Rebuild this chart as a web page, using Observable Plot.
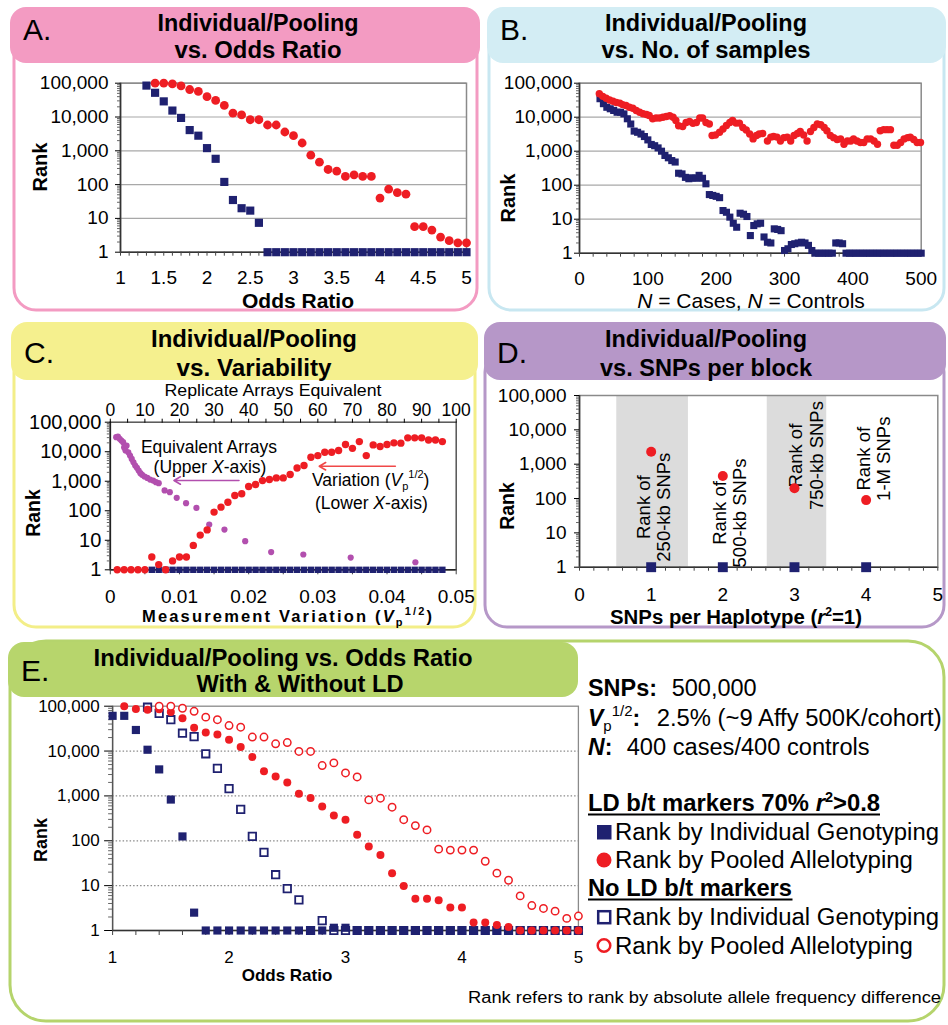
<!DOCTYPE html>
<html><head><meta charset="utf-8">
<script src="https://cdn.jsdelivr.net/npm/d3@7"></script>
<script src="https://cdn.jsdelivr.net/npm/@observablehq/plot@0.6"></script>
<style>
body{margin:0;background:#fff;}
#wrap{position:relative;width:948px;height:1025px;overflow:hidden;background:#fff;font-family:"Liberation Sans",Arial,Helvetica,sans-serif;}
</style></head><body><div id="wrap"></div>
<script>
// ================= DATA =================
const yTicks = [1, 10, 100, 1000, 10000, 100000];

// Panel A: rank vs odds ratio
const orA_ind = [1.3,1.4,1.5,1.6,1.7,1.8,1.9,2.0,2.1,2.2,2.3,2.4,2.5,2.6,2.7,2.8,2.9,3.0,3.1,3.2,3.3,3.4,3.5,3.6,3.7,3.8,3.9,4.0,4.1,4.2,4.3,4.4,4.5,4.6,4.7,4.8,4.9,5.0];
const rankA_ind = [85000,52000,29000,15500,9400,4100,2800,1200,580,120,35,20,17,7.4,1,1,1,1,1,1,1,1,1,1,1,1,1,1,1,1,1,1,1,1,1,1,1,1];
const orA_pool = [1.4,1.5,1.6,1.7,1.8,1.9,2.0,2.1,2.2,2.3,2.4,2.5,2.6,2.7,2.8,2.9,3.0,3.1,3.2,3.3,3.4,3.5,3.6,3.7,3.8,3.9,4.0,4.1,4.2,4.3,4.4,4.5,4.6,4.7,4.8,4.9,5.0];
const rankA_pool = [100000,100000,95000,83000,65000,57000,40000,31000,22000,13000,11500,8300,8300,5800,5800,3600,2800,1700,740,460,280,250,175,195,175,175,40,73,58,52,5.7,5.7,4.5,2.8,2.2,1.9,1.9];

// Panel B: rank vs number of samples
const nB_ind = [30,35,40,45,50,55,60,65,70,75,80,85,90,95,100,105,110,115,120,125,130,135,140,145,150,155,160,165,170,175,180,185,190,195,200,205,210,215,220,225,230,235,240,245,250,255,260,265,270,275,280,285,290,295,300,305,310,315,320,325,330,335,340,345,350,355,360,365,370,375,380,385,390,395,400,405,410,415,420,425,430,435,440,445,450,455,460,465,470,475,480,485,490,495,500];
const rankB_ind = [35000,25000,19600,17700,15800,14000,14000,12500,9000,6300,3900,3600,3200,2700,2150,1580,1450,1250,1000,750,640,530,480,225,215,170,155,165,160,195,160,110,53,50,47,43,18,16,11.5,7.6,5.8,15,14,12,3.3,6.5,7.3,7.6,3.0,2.1,2.0,5.2,5.0,4.6,1.2,1.35,1.8,1.9,2.0,2.1,2.0,1.7,1.2,1,1,1,1,1,1,2,2,1.9,1,1,1,1,1,1,1,1,1,1,1,1,1,1,1,1,1,1,1,1,1,1,1];
const nB_pool = [29,34,39,44,49,54,59,63,68,73,78,83,88,93,98,102,107,112,117,122,127,132,137,141,145,151,156,161,166,171,176,180,185,190,194,199,205,210,215,220,224,229,234,239,244,249,254,259,263,268,275,280,284,289,294,299,304,309,314,319,323,328,333,338,343,348,353,358,362,367,372,377,382,387,392,397,401,406,411,416,421,426,431,436,440,445,450,455,460,465,470,475,480,484,489,494,499];
const rankB_pool = [49000,41000,36000,32000,29500,27000,26000,23500,22000,19600,18300,15700,14000,12600,12000,11200,9000,9500,9500,10000,10500,11000,10000,8000,5600,5300,7000,7500,6600,7000,9500,9500,7000,6300,2900,3000,3600,4500,5700,7000,8000,6700,6700,5000,4200,3200,2300,2900,3200,3300,2000,2600,2700,2600,2000,2500,2600,2000,2900,3300,3800,3000,2000,3800,5000,6300,6000,5000,4000,2900,2500,2200,2300,1600,2000,2000,2300,2000,1800,1800,2300,2300,2000,1600,4000,4300,4300,4300,1500,1500,1800,2300,2500,2600,2200,1800,1800];

// Panel C: rank vs variability
const vpC_ind = [0.006,0.007,0.008,0.009,0.010,0.011,0.012,0.013,0.014,0.015,0.016,0.017,0.018,0.019,0.020,0.021,0.022,0.023,0.024,0.025,0.026,0.027,0.028,0.029,0.030,0.031,0.032,0.033,0.034,0.035,0.036,0.037,0.038,0.039,0.040,0.041,0.042,0.043,0.044,0.045,0.046,0.047,0.048];
const rankC_ind = [1,1,1,1,1,1,1,1,1,1,1,1,1,1,1,1,1,1,1,1,1,1,1,1,1,1,1,1,1,1,1,1,1,1,1,1,1,1,1,1,1,1,1];
const vpC_pool = [0.001,0.002,0.003,0.004,0.005,0.006,0.007,0.008,0.009,0.010,0.011,0.012,0.013,0.014,0.015,0.016,0.017,0.018,0.019,0.020,0.021,0.022,0.023,0.024,0.025,0.026,0.027,0.028,0.029,0.030,0.031,0.032,0.033,0.034,0.035,0.036,0.037,0.038,0.039,0.040,0.041,0.042,0.043,0.044,0.045,0.046,0.047,0.048];
const rankC_pool = [1,1,1,1,1,2.7,1.5,1,2,2.7,2.7,6.7,15,22.5,90,133,195,330,375,660,780,1050,1140,1300,1300,1700,2800,3400,6500,7400,9600,9600,11000,17500,13000,22000,7400,17000,15000,17500,20000,19500,29500,29500,29500,25000,25000,22000];
const arraysC = [1.7,2.2,2.7,3.2,3.7,4.0,4.4,4.7,5.2,5.7,6.2,6.7,7.2,7.7,8.2,8.7,9.2,9.9,10.7,11.5,12.4,13.2,14.0,15.7,17.2,19.2,21.9,24.9,28.6,33,39,46.5,55.8,69.5,88.2];
const rankC_arrays = [31000,32500,27500,24000,21000,14000,11000,16000,9600,7400,5700,4400,3400,2850,2300,1870,1650,1450,1300,1140,1050,930,860,490,425,275,180,125,34,23,9.3,4,3.3,2.6,1.8];

// Panel D: rank vs SNPs per block
const snpsD = [1, 2, 3, 4];
const rankD_ind = [1, 1, 1, 1];
const rankD_pool = [2300, 450, 200, 90];
const labelsD = ["Rank of\n250-kb SNPs", "Rank of\n500-kb SNPs", "Rank of\n750-kb SNPs", "Rank of\n1-M SNPs"];

// Panel E: rank vs odds ratio, with and without LD
const orE_ldInd = [1.0,1.1,1.2,1.3,1.4,1.5,1.6,1.7,1.8,1.9,2.0,2.1,2.2,2.3,2.4,2.5,2.6,2.7,2.8,2.9,3.0,3.1,3.2,3.3,3.4,3.5,3.6,3.7,3.8,3.9,4.0,4.1,4.2,4.3,4.4,4.5,4.6,4.7,4.8,4.9,5.0];
const rankE_ldInd = [61000,61000,29500,10700,3900,830,125,2.5,1,1,1,1,1,1,1,1,1,1,1,1.15,1.15,1,1,1,1,1,1,1,1,1,1,1,1,1,1,1,1,1,1,1,1];
const orE_noInd = [1.3,1.4,1.5,1.6,1.7,1.8,1.9,2.0,2.1,2.2,2.3,2.4,2.5,2.6,2.7,2.8,2.9,3.0,3.1,3.2,3.3,3.4,3.5,3.6,3.7,3.8,3.9,4.0,4.1,4.2,4.3,4.4,4.5,4.6,4.7,4.8,4.9,5.0];
const rankE_noInd = [95000,69000,50000,25000,21000,8700,4100,1450,500,125,55,17.5,8.6,4.8,1,1.66,1,1,1,1,1,1,1,1,1,1,1,1,1,1,1,1,1,1,1,1,1,1];
const orE_ldPool = [1.1,1.2,1.3,1.4,1.5,1.6,1.7,1.8,1.9,2.0,2.1,2.2,2.3,2.4,2.5,2.6,2.7,2.8,2.9,3.0,3.1,3.2,3.3,3.4,3.5,3.6,3.7,3.8,3.9,4.0,4.1,4.2,4.3,4.4,4.5,4.6,4.7,4.8,4.9,5.0];
const rankE_ldPool = [100000,87000,83000,85000,74000,54000,33000,26000,23500,17800,12300,7400,3550,2700,2000,1120,900,580,365,295,136,75,48,19,9.8,5.1,5.1,4.7,3.25,3.25,1.5,1.5,1.33,1.2,1,1,1,1,1,1];
const orE_noPool = [1.4,1.5,1.6,1.7,1.8,1.9,2.0,2.1,2.2,2.3,2.4,2.5,2.6,2.7,2.8,2.9,3.0,3.1,3.2,3.3,3.4,3.5,3.6,3.7,3.8,3.9,4.0,4.1,4.2,4.3,4.4,4.5,4.6,4.7,4.8,4.9,5.0];
const rankE_noPool = [100000,100000,90000,77000,57000,50000,37000,34000,20500,20500,14500,15500,9800,9800,4750,5450,3250,2650,815,890,560,295,218,175,65,62,62,62,35,19,13.2,5.9,3.6,3.1,2.7,1.86,2.1];

// ================= STYLE =================
const FONT = "'Liberation Sans', Arial, Helvetica, sans-serif";
const NAVY = "#1f2170";
const RED = "#ee1d23";
const PURPLE = "#b24fae";
const fmt = d3.format(",");
const minorY = [];
for (let k = 0; k < 5; k++) for (let m = 2; m < 10; m++) minorY.push(m * 10 ** k);
const blank = () => "";

const wrap = document.getElementById("wrap");
function place(el, left, top) {
  el.style.position = "absolute";
  el.style.left = left + "px";
  el.style.top = top + "px";
  wrap.appendChild(el);
}
function baseStyle() {
  return {fontFamily: FONT, background: "transparent", overflow: "visible", color: "#000"};
}

// ================= OVERLAY (frames, titles, labels) =================
const ov = d3.create("svg").attr("width", 948).attr("height", 1025)
  .style("position", "absolute").style("left", "0px").style("top", "0px")
  .style("font-family", FONT);

function addText(parent, x, y, parts, attrs) {
  const t = parent.append("text").attr("x", x).attr("y", y);
  for (const [k, v] of Object.entries(attrs || {})) t.attr(k, v);
  for (const p of parts) {
    if (typeof p === "string") { t.append("tspan").text(p); continue; }
    const s = t.append("tspan").text(p.t);
    if (p.dy !== undefined) s.attr("dy", p.dy);
    if (p.size) s.attr("font-size", p.size);
    if (p.italic) s.attr("font-style", "italic");
    if (p.weight) s.attr("font-weight", p.weight);
  }
  return t;
}

const panels = [
  {bx: 14, by: 30, bw: 463, bh: 280, tx: 10, ty: 7, tw: 470, th: 56, col: "#f39bc2", fill: "#f39bc2",
   letter: "A.", lb: 40, cx: 258, l1: "Individual/Pooling", l2: "vs. Odds Ratio", b1: 31, b2: 58, w1: 201, w2: 167},
  {bx: 489, by: 30, bw: 455, bh: 280, tx: 487, ty: 7, tw: 459, th: 56, col: "#c8e7f1", fill: "#d3edf4",
   letter: "B.", lb: 40, cx: 706, l1: "Individual/Pooling", l2: "vs. No. of samples", b1: 31, b2: 58, w1: 202, w2: 209},
  {bx: 14, by: 350, bw: 461, bh: 277, tx: 11, ty: 322, tw: 467, th: 58, col: "#f3ee88", fill: "#f5f08e",
   letter: "C.", lb: 363, cx: 254, l1: "Individual/Pooling", l2: "vs. Variability", b1: 346.5, b2: 376, w1: 206, w2: 155},
  {bx: 485, by: 350, bw: 459, bh: 277, tx: 484, ty: 322, tw: 462, th: 58, col: "#b698c8", fill: "#b697c8",
   letter: "D.", lb: 363, cx: 706, l1: "Individual/Pooling", l2: "vs. SNPs per block", b1: 346.5, b2: 376, w1: 202, w2: 212}
];
for (const p of panels) {
  ov.append("rect").attr("x", p.bx).attr("y", p.by).attr("width", p.bw).attr("height", p.bh)
    .attr("rx", 22).attr("fill", "none").attr("stroke", p.col).attr("stroke-width", 3);
  ov.append("rect").attr("x", p.tx).attr("y", p.ty).attr("width", p.tw).attr("height", p.th)
    .attr("rx", 16).attr("fill", p.fill);
  addText(ov, p.tx + 13, p.lb, [p.letter], {"font-size": 30});
  addText(ov, p.cx, p.b1, [p.l1], {"font-size": 23, "font-weight": "bold", "text-anchor": "middle", textLength: p.w1, lengthAdjust: "spacingAndGlyphs"});
  addText(ov, p.cx, p.b2, [p.l2], {"font-size": 23, "font-weight": "bold", "text-anchor": "middle", textLength: p.w2, lengthAdjust: "spacingAndGlyphs"});
}
// Panel E frame and title
ov.append("rect").attr("x", 10).attr("y", 641).attr("width", 934).attr("height", 380)
  .attr("rx", 36).attr("fill", "none").attr("stroke", "#b5d46c").attr("stroke-width", 3);
ov.append("rect").attr("x", 8).attr("y", 642).attr("width", 570).attr("height", 55)
  .attr("rx", 16).attr("fill", "#b7d56c");
addText(ov, 21, 681, ["E."], {"font-size": 30});
addText(ov, 283, 666, ["Individual/Pooling vs. Odds Ratio"], {"font-size": 23.5, "font-weight": "bold", "text-anchor": "middle", textLength: 379, lengthAdjust: "spacingAndGlyphs"});
addText(ov, 300, 692, ["With & Without LD"], {"font-size": 23.5, "font-weight": "bold", "text-anchor": "middle", textLength: 207, lengthAdjust: "spacingAndGlyphs"});

// axis titles
function rankLabel(x, y, size) {
  addText(ov, 0, 0, ["Rank"], {"font-size": size, "font-weight": "bold", "text-anchor": "middle", transform: `translate(${x},${y}) rotate(-90)`, dy: "0.36em"});
}
rankLabel(40, 167, 20);
rankLabel(508, 198, 20);
rankLabel(33, 513, 19.5);
rankLabel(507, 506, 19.5);
rankLabel(41, 840, 18);
addText(ov, 298, 308, ["Odds Ratio"], {"font-size": 21, "font-weight": "bold", "text-anchor": "middle"});
addText(ov, 751, 308, [{t: "N", italic: true}, " = Cases, ", {t: "N", italic: true}, " = Controls"], {"font-size": 21, "text-anchor": "middle"});
addText(ov, 273, 395.5, ["Replicate Arrays Equivalent"], {"font-size": 17, "text-anchor": "middle", textLength: 217, lengthAdjust: "spacingAndGlyphs"});
addText(ov, 142, 621.5, ["Measurement Variation (", {t: "V", italic: true}, {t: "p", size: 11, dy: 4}, {t: "1/2", size: 11, dy: -11}, {t: ")", dy: 7}],
  {"font-size": 16.5, "font-weight": "bold", textLength: 290, lengthAdjust: "spacing"});
addText(ov, 736, 624, ["SNPs per Haplotype (", {t: "r", italic: true}, {t: "2", size: 12, dy: -8}, {t: "=1)", dy: 8}],
  {"font-size": 20, "font-weight": "bold", "text-anchor": "middle", textLength: 252, lengthAdjust: "spacingAndGlyphs"});
addText(ov, 287, 981, ["Odds Ratio"], {"font-size": 17, "font-weight": "bold", "text-anchor": "middle"});

// panel C annotations
addText(ov, 209, 452.7, ["Equivalent Arrays"], {"font-size": 17.5, "text-anchor": "middle"});
addText(ov, 210, 473.3, ["(Upper ", {t: "X", italic: true}, "-axis)"], {"font-size": 17.5, "text-anchor": "middle"});
addText(ov, 312, 486, ["Variation (", {t: "V", italic: true}, {t: "p", size: 11, dy: 3.5}, {t: "1/2", size: 11, dy: -12}, {t: ")", dy: 8.5}], {"font-size": 17.5});
addText(ov, 315, 508.5, ["(Lower ", {t: "X", italic: true}, "-axis)"], {"font-size": 17.5});

// panel E legend text
const LS = 23;
addText(ov, 588, 696, ["SNPs:"], {"font-size": LS, "font-weight": "bold", textLength: 69, lengthAdjust: "spacingAndGlyphs"});
addText(ov, 671.7, 696, ["500,000"], {"font-size": LS, textLength: 85, lengthAdjust: "spacingAndGlyphs"});
addText(ov, 588, 726, [{t: "V", italic: true}, {t: "p", size: 15, dy: 4.5, weight: "normal"}, {t: "1/2", size: 15, dy: -15, weight: "normal"}, {t: ":", dy: 10.5}], {"font-size": LS, "font-weight": "bold"});
addText(ov, 656.7, 726, ["2.5% (~9 Affy 500K/cohort)"], {"font-size": LS, textLength: 285, lengthAdjust: "spacingAndGlyphs"});
addText(ov, 588, 755, [{t: "N", italic: true}, ":"], {"font-size": LS, "font-weight": "bold"});
addText(ov, 626.7, 755, ["400 cases/400 controls"], {"font-size": LS, textLength: 243, lengthAdjust: "spacingAndGlyphs"});
addText(ov, 588, 811, ["LD b/t markers 70% ", {t: "r", italic: true}, {t: "2", size: 14, dy: -9}, {t: ">0.8", dy: 9}], {"font-size": LS, "font-weight": "bold", textLength: 292, lengthAdjust: "spacingAndGlyphs"});
ov.append("line").attr("x1", 588).attr("x2", 880).attr("y1", 814.5).attr("y2", 814.5).attr("stroke", "#000").attr("stroke-width", 2);
ov.append("rect").attr("x", 597).attr("y", 825).attr("width", 14.5).attr("height", 14.5).attr("fill", NAVY);
addText(ov, 615, 839.5, ["Rank by Individual Genotyping"], {"font-size": LS, textLength: 324, lengthAdjust: "spacingAndGlyphs"});
ov.append("circle").attr("cx", 604).attr("cy", 860).attr("r", 7.5).attr("fill", RED);
addText(ov, 615, 868, ["Rank by Pooled Allelotyping"], {"font-size": LS, textLength: 298, lengthAdjust: "spacingAndGlyphs"});
addText(ov, 588, 896, ["No LD b/t markers"], {"font-size": LS, "font-weight": "bold", textLength: 204, lengthAdjust: "spacingAndGlyphs"});
ov.append("line").attr("x1", 588).attr("x2", 792.5).attr("y1", 899.5).attr("y2", 899.5).attr("stroke", "#000").attr("stroke-width", 2);
ov.append("rect").attr("x", 598.2).attr("y", 911.2).attr("width", 12).attr("height", 12).attr("fill", "#fff").attr("stroke", NAVY).attr("stroke-width", 2.5);
addText(ov, 615, 925, ["Rank by Individual Genotyping"], {"font-size": LS, textLength: 324, lengthAdjust: "spacingAndGlyphs"});
ov.append("circle").attr("cx", 604).attr("cy", 945.5).attr("r", 6.3).attr("fill", "#fff").attr("stroke", RED).attr("stroke-width", 2.5);
addText(ov, 615, 953.5, ["Rank by Pooled Allelotyping"], {"font-size": LS, textLength: 298, lengthAdjust: "spacingAndGlyphs"});
addText(ov, 941, 1003, ["Rank refers to rank by absolute allele frequency difference"], {"font-size": 16, "text-anchor": "end", textLength: 473, lengthAdjust: "spacingAndGlyphs"});

wrap.appendChild(ov.node());

// ================= PLOTS =================
const yLog = {type: "log", domain: [1, 100000], label: null};

// ---- Panel A ----
const plotA = Plot.plot({
  width: 474, height: 245,
  marginLeft: 120, marginRight: 8, marginTop: 22.7, marginBottom: 53.3,
  style: baseStyle(),
  x: {domain: [1, 5], label: null},
  y: yLog,
  marks: [
    Plot.ruleY(yTicks.slice(1), {stroke: "#a8a8a8", strokeWidth: 1.2}),
    Plot.frame({stroke: "#8a8a8a", strokeWidth: 1.5}),
    Plot.ruleY([1], {stroke: "#333", strokeWidth: 1.6}),
    Plot.ruleX([1], {stroke: "#333", strokeWidth: 1.6}),
    Plot.axisY({ticks: yTicks, tickFormat: fmt, tickSize: 5, tickPadding: 7, fontSize: 19, label: null}),
    Plot.axisY({ticks: minorY, tickFormat: blank, tickSize: 3, label: null, stroke: "#666"}),
    Plot.axisX({ticks: [1, 1.5, 2, 2.5, 3, 3.5, 4, 4.5, 5], tickFormat: d => String(d), tickSize: 0, tickPadding: 18, fontSize: 19, label: null}),
    Plot.axisX({ticks: d3.range(10, 51).map(d => d / 10), tickFormat: blank, tickSize: 4, label: null, stroke: "#444"}),
    Plot.dot(rankA_ind, {x: orA_ind, y: rankA_ind, symbol: "square", fill: NAVY, r: 4.6}),
    Plot.dot(rankA_pool, {x: orA_pool, y: rankA_pool, fill: RED, r: 4.4})
  ]
});
place(plotA, 0, 60);

// ---- Panel B ----
const plotB = Plot.plot({
  width: 474, height: 245,
  marginLeft: 105, marginRight: 27.3, marginTop: 22.7, marginBottom: 52.3,
  style: baseStyle(),
  x: {domain: [0, 500], label: null},
  y: yLog,
  marks: [
    Plot.ruleY(yTicks.slice(1), {stroke: "#a8a8a8", strokeWidth: 1.2}),
    Plot.frame({stroke: "#8a8a8a", strokeWidth: 1.5}),
    Plot.ruleY([1], {stroke: "#333", strokeWidth: 1.6}),
    Plot.ruleX([0], {stroke: "#333", strokeWidth: 1.6}),
    Plot.axisY({ticks: yTicks, tickFormat: fmt, tickSize: 5, tickPadding: 2, fontSize: 19, label: null}),
    Plot.axisY({ticks: minorY, tickFormat: blank, tickSize: 3, label: null, stroke: "#666"}),
    Plot.axisX({ticks: [0, 100, 200, 300, 400, 500], tickFormat: d => String(d), tickSize: 0, tickPadding: 18, fontSize: 19, label: null}),
    Plot.axisX({ticks: d3.range(0, 501, 20), tickFormat: blank, tickSize: 4, label: null, stroke: "#444"}),
    Plot.dot(rankB_ind, {x: nB_ind, y: rankB_ind, symbol: "square", fill: NAVY, r: 4}),
    Plot.dot(rankB_pool, {x: nB_pool, y: rankB_pool, fill: RED, r: 3.7})
  ]
});
place(plotB, 474, 60);

// ---- Panel C ----
const plotC = Plot.plot({
  width: 474, height: 240,
  marginLeft: 109.8, marginRight: 18.3, marginTop: 41.7, marginBottom: 50.7,
  style: baseStyle(),
  x: {domain: [0, 0.05], label: null},
  y: yLog,
  marks: [
    Plot.frame({stroke: "#555", strokeWidth: 1.5}),
    Plot.ruleY([1], {stroke: "#222", strokeWidth: 1.6}),
    Plot.ruleX([0], {stroke: "#222", strokeWidth: 1.6}),
    Plot.axisY({ticks: yTicks, tickFormat: fmt, tickSize: 5, tickPadding: 4, fontSize: 20, label: null}),
    Plot.axisY({ticks: minorY, tickFormat: blank, tickSize: 3, label: null, stroke: "#666"}),
    Plot.axisX({ticks: [0, 0.01, 0.02, 0.03, 0.04, 0.05], tickFormat: d => String(d), tickSize: 0, tickPadding: 19.5, fontSize: 19, label: null}),
    Plot.axisX({ticks: d3.range(0, 11).map(d => d * 0.005), tickFormat: blank, tickSize: 5, label: null, stroke: "#444"}),
    Plot.axisX({anchor: "top", ticks: d3.range(0, 21).map(d => d * 0.0025), tickFormat: d => (Math.round(d * 2000) % 10 === 0 ? String(Math.round(d * 2000)) : ""), tickSize: 4, tickPadding: 2, fontSize: 17.5, label: null}),
    Plot.arrow([0], {x1: 0.0186, y1: 1060, x2: 0.0092, y2: 1060, stroke: PURPLE, strokeWidth: 1.6, headLength: 7}),
    Plot.arrow([0], {x1: 0.0412, y1: 3230, x2: 0.0302, y2: 3230, stroke: "#f04848", strokeWidth: 1.6, headLength: 7}),
    Plot.dot(rankC_ind, {x: vpC_ind, y: rankC_ind, symbol: "square", fill: NAVY, r: 3.6}),
    Plot.dot(rankC_arrays, {x: arraysC.map(v => v / 2000), y: rankC_arrays, fill: PURPLE, r: 3.1}),
    Plot.dot(rankC_pool, {x: vpC_pool, y: rankC_pool, fill: RED, r: 3.7})
  ]
});
place(plotC, 0, 380);

// ---- Panel D ----
const plotD = Plot.plot({
  width: 474, height: 240,
  marginLeft: 105, marginRight: 10.7, marginTop: 15, marginBottom: 53.3,
  style: baseStyle(),
  x: {domain: [0, 5], label: null},
  y: yLog,
  marks: [
    Plot.rect([0, 1], {x1: [0.52, 2.62], x2: [1.52, 3.45], y1: 1, y2: 100000, fill: "#dcdcdc"}),
    Plot.frame({stroke: "#8a8a8a", strokeWidth: 1.5}),
    Plot.ruleY([1], {stroke: "#333", strokeWidth: 1.6}),
    Plot.ruleX([0], {stroke: "#333", strokeWidth: 1.6}),
    Plot.axisY({ticks: yTicks, tickFormat: fmt, tickSize: 5, tickPadding: 8, fontSize: 19, label: null}),
    Plot.axisY({ticks: minorY, tickFormat: blank, tickSize: 3, label: null, stroke: "#666"}),
    Plot.axisX({ticks: [0, 1, 2, 3, 4, 5], tickFormat: d => String(d), tickSize: 0, tickPadding: 20, fontSize: 19, label: null}),
    Plot.axisX({ticks: d3.range(0, 26).map(d => d * 0.2), tickFormat: blank, tickSize: 4, label: null, stroke: "#444"}),
    Plot.text(labelsD, {x: [1.03, 2.09, 3.16, 4.1], y: [56, 38, 1780, 1440], text: d => d, rotate: -90, fontSize: 18.5, lineHeight: 1.12, textAnchor: "middle", lineAnchor: "middle", fill: "#000"}),
    Plot.dot(rankD_ind, {x: snpsD, y: rankD_ind, symbol: "square", fill: NAVY, r: 5.6}),
    Plot.dot(rankD_pool, {x: snpsD, y: rankD_pool, fill: RED, r: 5})
  ]
});
place(plotD, 474, 380);

// ---- Panel E ----
const plotE = Plot.plot({
  width: 590, height: 310,
  marginLeft: 112.1, marginRight: 12.1, marginTop: 15.7, marginBottom: 70,
  style: baseStyle(),
  x: {domain: [1, 5], label: null},
  y: yLog,
  marks: [
    Plot.ruleY([10, 100, 1000, 10000], {stroke: "#8a8a8a", strokeWidth: 1.2, strokeDasharray: "1.5,2"}),
    Plot.frame({stroke: "#8a8a8a", strokeWidth: 1.3}),
    Plot.ruleY([1], {stroke: "#333", strokeWidth: 1.6}),
    Plot.ruleX([1], {stroke: "#555", strokeWidth: 1.4}),
    Plot.axisY({ticks: yTicks, tickFormat: fmt, tickSize: 8, tickPadding: 5, fontSize: 17, label: null}),
    Plot.axisY({ticks: minorY, tickFormat: blank, tickSize: 4, label: null, stroke: "#666"}),
    Plot.axisX({ticks: [1, 2, 3, 4, 5], tickFormat: d => String(d), tickSize: 0, tickPadding: 20.5, fontSize: 17, label: null}),
    Plot.axisX({ticks: d3.range(5, 26).map(d => d * 0.2), tickFormat: blank, tickSize: 5, label: null, stroke: "#444"}),
    Plot.dot(rankE_noInd, {x: orE_noInd, y: rankE_noInd, symbol: "square", fill: "#fff", stroke: NAVY, strokeWidth: 1.8, r: 4.2}),
    Plot.dot(rankE_ldInd, {x: orE_ldInd, y: rankE_ldInd, symbol: "square", fill: NAVY, r: 4.6}),
    Plot.dot(rankE_ldPool, {x: orE_ldPool, y: rankE_ldPool, fill: RED, r: 4}),
    Plot.dot(rankE_noPool, {x: orE_noPool, y: rankE_noPool, fill: "#fff", stroke: RED, strokeWidth: 1.5, r: 3.7})
  ]
});
place(plotE, 0, 690);
</script></body></html>
